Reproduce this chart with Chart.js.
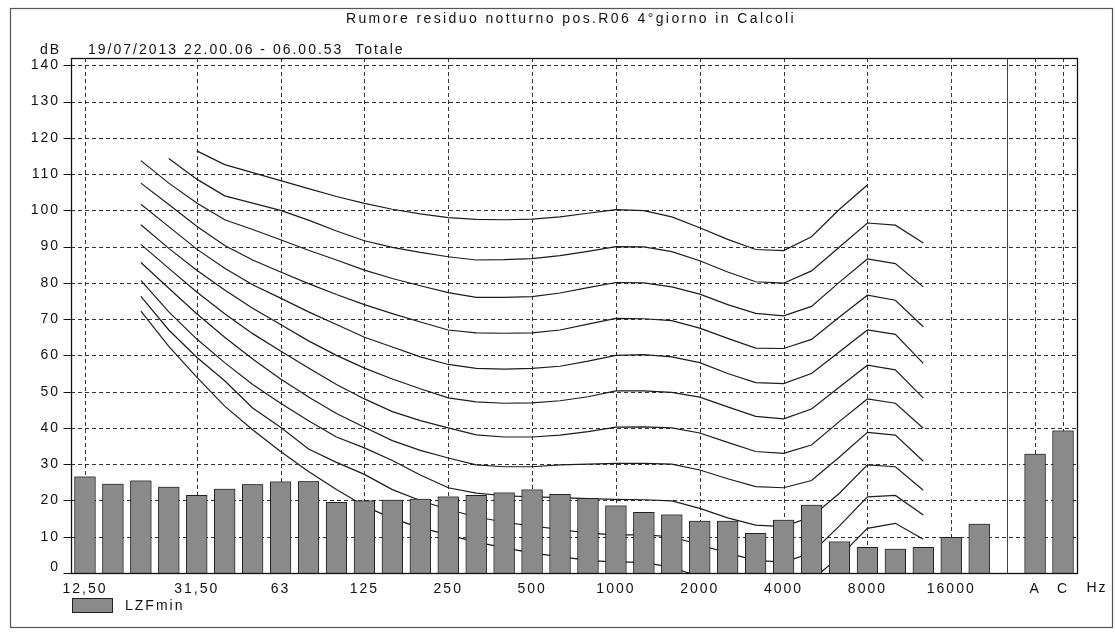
<!DOCTYPE html>
<html>
<head>
<meta charset="utf-8">
<script src="https://cdn.jsdelivr.net/npm/chart.js@4.4.0/dist/chart.umd.min.js"></script>
<style>
html,body{margin:0;padding:0;background:#fff;}
canvas{display:block;}
</style>
</head>
<body>
<canvas id="c" width="1115" height="634"></canvas>
<script>
const FONT = '"Liberation Sans", Arial, sans-serif';
const LS = '2px';

const titleText = 'Rumore residuo notturno pos.R06 4°giorno in Calcoli';
const unitText = 'dB';
const subtitleText = '19/07/2013 22.00.06 - 06.00.53  Totale';
const legendText = 'LZFmin';
const hzText = 'Hz';

// 1/3 octave bands, an empty slot, then A and C totals
const bands = ['12,5','16','20','25','31,5','40','50','63','80','100','125','160','200','250','315','400','500','630','800','1000','1250','1600','2000','2500','3150','4000','5000','6300','8000','10000','12500','16000','20000','','A','C'];
const tickLabels = ['12,50','','','','31,50','','','63','','','125','','','250','','','500','','','1000','','','2000','','','4000','','','8000','','','16000','','','A','C'];
const yTicks = [0,10,20,30,40,50,60,70,80,90,100,110,120,130,140];

// LZFmin spectrum (dB)
const lzfmin = [26.6,24.6,25.5,23.8,21.5,23.2,24.5,25.2,25.3,19.6,20.0,20.2,20.5,21.1,21.5,22.2,23.0,21.8,20.7,18.6,16.8,16.1,14.4,14.4,11.0,14.7,18.8,8.7,7.2,6.7,7.2,9.9,13.6,null,32.9,39.3];

// Equal-loudness contours, values from 20 Hz to 12500 Hz
const phon100 = [null,null,116.4,112.6,110.4,108.2,106,103.8,101.9,100.3,99,98,97.5,97.4,97.6,98.2,99.2,100.2,99.9,98.2,95.2,92,89.2,88.9,92.7,100.3,107,null,null];
const phon90  = [null,114.3,108.6,104,102,100,97.3,94.3,91.6,89.8,88.4,87.2,86.3,86.4,86.7,87.5,88.7,90,89.9,88.6,86.1,83,80.3,79.9,83.3,89.9,96.5,95.9,91];
const phon80  = [113.7,107.5,102,97.4,94.7,91.9,89,86.3,83.5,81.2,79.2,77.3,76,76,76.2,77.2,78.7,80.1,80,78.9,76.9,74,71.6,70.9,73.5,80.2,86.6,85.3,78.9];
const phon70  = [107.5,101.6,95.6,90.3,86.3,83,79.8,76.8,74,71.5,69.2,67,66.2,66.1,66.2,67,68.6,70.2,70.1,69.6,67.5,64.7,62,61.9,64.4,70.6,76.6,75.2,67.9];
const phon60  = [101.7,95.5,89.3,84,79.5,75.8,72,68.5,65,62.3,59.6,57.5,56.4,56.2,56.4,57,58.4,60,60.2,59.6,58,55,52.5,52.2,55,61,67,65.8,57.8];
const phon50  = [96,89.5,83.5,78,73,68.5,64,60,56.5,53.5,50.8,48.3,47.2,46.8,46.9,47.5,48.6,50.2,50.2,49.8,48.5,45.8,43.2,42.5,45.2,51.3,57.3,56,48.2];
const phon40  = [90.6,84,77.5,71.5,66,61.2,56.5,52,48,44.5,42,40,38.1,37.5,37.5,38,39,40.2,40.3,40,38.6,36,33.5,33,35.3,41.8,48,46.8,39.9];
const phon30  = [85.6,78.5,71.5,65,59,53.5,48.5,44,40.2,36.5,33.8,31.7,29.8,29.3,29.3,29.8,30,30.2,30.2,30,28.4,26,23.8,23.5,25.5,32,38.8,38,30.8];
const phon20  = [80.7,72,64.5,58,52,46.8,42,37.5,34.5,31,27,23.5,22,21.3,21,20.8,20.5,20.3,20.2,19.9,17.8,15.2,13.2,12.8,15.5,22,29.8,29.3,22.8];
const phon10  = [76.3,67,59.5,53,45.5,40.2,34.2,30.5,27.2,23,20,17.5,15.5,14,13,12,11,10.5,10.5,10,7.8,5.5,3.5,3,5.5,13,21,21.4,16];
const phon0   = [72.2,62.5,54,46,39.5,33.5,28,23,18.5,15,12.5,10.5,8.5,7,5.5,4.5,3.5,3,3,1.5,-1,-3.5,-5,-5,-2,4.5,12.3,13.7,9.3];

const curves = [phon100, phon90, phon80, phon70, phon60, phon50, phon40, phon30, phon20, phon10, phon0];
function toBands(arr){ return [null,null].concat(arr, [null,null,null,null,null]); }

const curveSets = curves.map(c => ({
  type: 'line',
  data: toBands(c),
  borderColor: '#1c1c1c',
  borderWidth: 1.2,
  pointRadius: 0,
  pointHoverRadius: 0,
  tension: 0,
  fill: false,
  spanGaps: false,
  order: 2
}));

const deco = {
  id: 'deco',
  beforeUpdate(chart){ chart.ctx.letterSpacing = LS; },
  beforeDraw(chart){
    const ctx = chart.ctx;
    ctx.letterSpacing = LS;
    ctx.save();
    ctx.fillStyle = '#fff';
    ctx.fillRect(0,0,chart.width,chart.height);
    ctx.restore();
  },
  beforeDatasetsDraw(chart){
    const ctx = chart.ctx, ca = chart.chartArea;
    const xs = chart.scales.x, ys = chart.scales.y;
    ctx.save();
    ctx.strokeStyle = '#333';
    ctx.lineWidth = 1;
    ctx.setLineDash([4,3]);
    yTicks.forEach(v => {
      const y = Math.round(ys.getPixelForValue(v)) + 0.5;
      ctx.beginPath(); ctx.moveTo(ca.left, y); ctx.lineTo(ca.right, y); ctx.stroke();
    });
    tickLabels.forEach((t,i) => {
      if (!t) return;
      const x = Math.round(xs.getPixelForValue(i)) + 0.5;
      ctx.beginPath(); ctx.moveTo(x, ca.top); ctx.lineTo(x, ca.bottom); ctx.stroke();
    });
    ctx.restore();
  },
  afterDatasetsDraw(chart){
    // keep the LZFmin bars in front of the contour lines
    const meta = chart.getDatasetMeta(0);
    const ctx = chart.ctx, ca = chart.chartArea;
    ctx.save();
    ctx.beginPath();
    ctx.rect(ca.left, ca.top, ca.right - ca.left, ca.bottom - ca.top);
    ctx.clip();
    meta.controller.draw();
    ctx.restore();
  },
  afterDraw(chart){
    const ctx = chart.ctx, ca = chart.chartArea;
    const xs = chart.scales.x, ys = chart.scales.y;
    ctx.save();
    ctx.letterSpacing = LS;
    // plot frame
    ctx.strokeStyle = '#111';
    ctx.lineWidth = 1.3;
    ctx.setLineDash([]);
    const L = Math.round(ca.left)+0.5, T = Math.round(ca.top)+0.5, R = Math.round(ca.right)+0.5, B = Math.round(ca.bottom)+0.5;
    ctx.strokeRect(L, T, R-L, B-T);
    // separator before A / C
    const sx = Math.round(xs.getPixelForValue(33)) + 0.5;
    ctx.lineWidth = 1;
    ctx.strokeStyle = '#444';
    ctx.beginPath(); ctx.moveTo(sx, T); ctx.lineTo(sx, B); ctx.stroke();
    // y tick marks and labels
    ctx.strokeStyle = '#111';
    ctx.fillStyle = '#111';
    ctx.font = '14px ' + FONT;
    ctx.textBaseline = 'middle';
    ctx.textAlign = 'right';
    yTicks.forEach(v => {
      const yp = ys.getPixelForValue(v);
      const y = Math.round(yp) + 0.5;
      ctx.beginPath(); ctx.moveTo(L-8, y); ctx.lineTo(L, y); ctx.stroke();
      ctx.fillText(String(v), 60, v === 0 ? yp - 6 : yp);
    });
    // texts
    ctx.textAlign = 'center';
    ctx.letterSpacing = '2.4px';
    ctx.fillText(titleText, 571, 19);
    ctx.letterSpacing = LS;
    ctx.textAlign = 'left';
    ctx.fillText(unitText, 40, 50);
    ctx.fillText(subtitleText, 88, 50);
    ctx.textAlign = 'center';
    ctx.fillText(hzText, 1097, 588);
    // legend
    ctx.fillStyle = '#8a8a8a';
    ctx.fillRect(72, 598, 41, 15);
    ctx.strokeStyle = '#222';
    ctx.lineWidth = 1;
    ctx.strokeRect(72.5, 598.5, 40, 14);
    ctx.fillStyle = '#111';
    ctx.textAlign = 'left';
    ctx.fillText(legendText, 125, 606);
    // outer frame
    ctx.strokeStyle = '#555';
    ctx.lineWidth = 1.2;
    ctx.strokeRect(10.5, 8.5, 1102, 619);
    ctx.restore();
  }
};

new Chart(document.getElementById('c'), {
  type: 'bar',
  data: {
    labels: bands,
    datasets: [{
      type: 'bar',
      label: legendText,
      data: lzfmin,
      backgroundColor: '#8a8a8a',
      borderColor: '#222',
      borderWidth: 1,
      barPercentage: 0.76,
      categoryPercentage: 1.0,
      order: 1
    }].concat(curveSets)
  },
  options: {
    responsive: false,
    animation: false,
    events: [],
    layout: { padding: { top: 58, right: 38, left: 0, bottom: 0 } },
    plugins: { legend: { display: false }, title: { display: false }, tooltip: { enabled: false } },
    scales: {
      x: {
        type: 'category',
        offset: true,
        grid: { display: false, drawTicks: false },
        border: { display: false },
        ticks: {
          autoSkip: false, maxRotation: 0, minRotation: 0, padding: 8,
          color: '#111', font: { family: FONT, size: 14 },
          callback: (v, i) => tickLabels[i]
        },
        afterFit: s => { s.height = 61; }
      },
      y: {
        min: 0, max: 142,
        grid: { display: false, drawTicks: false },
        border: { display: false },
        ticks: { display: false, stepSize: 10 },
        afterBuildTicks: s => { s.ticks = yTicks.map(v => ({ value: v })); },
        afterFit: s => { s.width = 71; }
      }
    }
  },
  plugins: [deco]
});
</script>
</body>
</html>
